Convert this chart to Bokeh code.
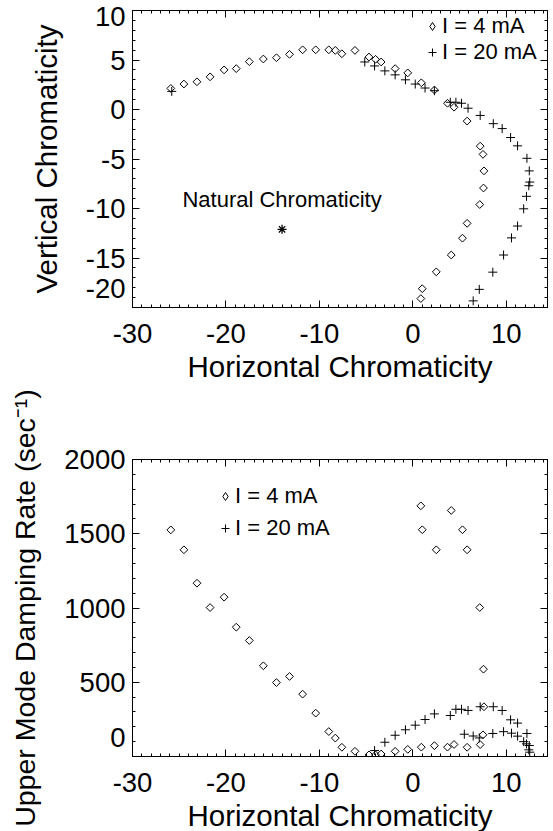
import math
from bokeh.plotting import figure
from bokeh.layouts import column
from bokeh.models import (Range1d, SingleIntervalTicker, LinearAxis, Legend,
                          LegendItem, Label, CustomJSTickFormatter)
from bokeh.embed import file_html
from bokeh.resources import INLINE

nan = float("nan")

# ---- data: I = 4 mA (diamonds) ----
hx_4 = [-25.9, -24.5, -23.1, -21.7, -20.2, -18.9, -17.5, -16.0, -14.6, -13.2,
        -11.8, -10.4, -9.0, -8.3, -7.6, -6.2, -4.7, -4.0, -3.4, -1.9,
        -0.55, 0.9, 2.3, 3.7, 4.4, 5.8, 7.2, 7.5, 7.6, 7.55,
        7.15, 5.8, 5.3, 4.1, 2.5, 1.0, 0.85]
vy_4 = [2.13, 2.57, 2.8, 3.3, 4.0, 4.13, 4.83, 5.1, 5.23, 5.57,
        6.03, 6.03, 6.03, 5.97, 5.63, 5.97, 5.3, 5.07, 4.8, 4.13,
        3.7, 2.7, 1.97, 0.63, 0.23, -1.17, -3.7, -4.53, -6.2, -7.93,
        -9.6, -11.5, -13.0, -14.7, -16.4, -18.1, -19.1]
rate_4 = [1526, 1392, 1167, 1003, 1073, 871, 781, 611, 498, 539,
          420, 292, 168, 124, 62, 35, 11, 11, 17, 35,
          48, 63, 73, 63, 81, 62, 80, 146, 335, 588,
          1003, 1392, 1527, 1657, 1392, 1527, 1688]

# ---- data: I = 20 mA (crosses) ----
hx_20 = [-25.8, -5.15, -4.1, -3.0, -1.9, -0.8, 0.25, 1.3, 2.3, 4.0,
         4.6, 5.2, 5.9, 7.2, 8.6, 9.55, 10.45, 11.2, 12.2, 12.45,
         12.5, 12.4, 12.15, 11.85, 11.2, 10.55, 9.7, 8.55, 7.1, 6.45, 5.5]
vy_20 = [1.83, 4.8, 4.4, 3.9, 3.5, 3.0, 2.57, 2.17, 1.9, 0.73,
         0.73, 0.63, 0.13, -0.6, -1.43, -1.93, -2.83, -3.67, -4.93, -6.2,
         -7.33, -7.7, -8.77, -10.03, -11.77, -12.97, -14.7, -16.43, -18.17, -19.33, -20.5]
rate_20 = [nan, nan, 40, 96, 143, 180, 211, 249, 287, 276,
           318, 318, 310, 335, 335, 310, 247, 225, 155, 74,
           29, 45, 85, 100, 137, 157, 167, 155, 125, 138, 150]

# ---- natural chromaticity ----
nat_x = [-14.0]
nat_y = [-12.1]

FONT = "Liberation Sans"
TICK_FS = "27.5px"
TITLE_FS = "29.5px"


def plain_fmt(lo=None):
    code = "var s = tick.toString();"
    if lo is not None:
        code += "if (tick == %s) return s + '\\n';" % lo
    code += "return s;"
    return CustomJSTickFormatter(code=code)


def style_axis(ax, show_labels=True):
    ax.axis_line_color = "black"
    ax.axis_line_width = 1
    ax.major_tick_line_color = "black"
    ax.minor_tick_line_color = "black"
    ax.major_tick_in = 7
    ax.major_tick_out = 0
    ax.minor_tick_in = 3
    ax.minor_tick_out = 0
    ax.major_label_text_font = FONT
    ax.axis_label_text_font = FONT
    ax.axis_label_text_font_size = TITLE_FS
    ax.axis_label_text_font_style = "normal"
    ax.axis_label_text_color = "black"
    if show_labels:
        ax.major_label_text_font_size = TICK_FS
        ax.major_label_text_color = "black"
    else:
        ax.major_label_text_font_size = "1px"
        ax.major_label_text_color = None
        ax.major_label_standoff = 0


def make_fig(y_start, y_end, y_int, y_minor, ylabel, top_border, bottom_border,
             yfmt, ylabel_fs):
    p = figure(frame_width=415, frame_height=297,
               x_range=Range1d(-30, 14.4), y_range=Range1d(y_start, y_end),
               output_backend="svg", toolbar_location=None,
               min_border_left=132, min_border_right=6,
               min_border_top=top_border, min_border_bottom=bottom_border,
               x_axis_label="Horizontal Chromaticity", y_axis_label=ylabel,
               background_fill_color="white", border_fill_color="white")
    p.xgrid.visible = False
    p.ygrid.visible = False
    p.outline_line_color = "black"
    p.xaxis.ticker = SingleIntervalTicker(interval=10, num_minor_ticks=10)
    p.yaxis.ticker = SingleIntervalTicker(interval=y_int, num_minor_ticks=y_minor)
    for ax in p.xaxis:
        style_axis(ax)
        ax.formatter = plain_fmt()
        ax.major_label_standoff = 16
        ax.axis_label_standoff = 4
    for ax in p.yaxis:
        style_axis(ax)
        ax.formatter = yfmt
        ax.major_label_standoff = 7
        ax.axis_label_standoff = 20
        ax.axis_label_text_font_size = ylabel_fs
    top_ax = LinearAxis(ticker=SingleIntervalTicker(interval=10, num_minor_ticks=10))
    right_ax = LinearAxis(ticker=SingleIntervalTicker(interval=y_int, num_minor_ticks=y_minor))
    style_axis(top_ax, show_labels=False)
    style_axis(right_ax, show_labels=False)
    p.add_layout(top_ax, "above")
    p.add_layout(right_ax, "right")
    return p


def make_legend(r_a, r_b, loc, spacing):
    return Legend(items=[LegendItem(label="I = 4 mA", renderers=[r_a]),
                         LegendItem(label="I = 20 mA", renderers=[r_b])],
                  location=loc, glyph_width=20, glyph_height=20, label_standoff=0,
                  padding=0, spacing=spacing, margin=0, border_line_color=None,
                  background_fill_alpha=0, label_text_font=FONT,
                  label_height=24,
                  label_text_font_size="22px", label_text_color="black")


# ---- top panel ----
p1 = make_fig(-20, 10, 5, 5, "Vertical Chromaticity", 10, 78,
              plain_fmt(lo=-20), TITLE_FS)
p1.scatter(hx_4, vy_4, marker="square", angle=math.pi / 4, size=5.5,
           fill_color=None, line_color="black", line_width=1)
r2 = p1.scatter(hx_20, vy_20, marker="cross", size=9,
                line_color="black", line_width=1)
r1 = p1.scatter([nan], [nan], marker="diamond", size=8, fill_color=None,
                line_color="black", line_width=1)
p1.scatter(nat_x, nat_y, marker="asterisk", size=9, line_color="black", line_width=1.3)
p1.add_layout(Label(x=nat_x[0], y=nat_y[0], y_offset=30, text="Natural Chromaticity",
                    text_align="center", text_baseline="middle",
                    text_font=FONT, text_font_size="22px", text_color="black"))
p1.add_layout(make_legend(r1, r2, (290, 242), 0))

# ---- bottom panel ----
p2 = make_fig(0, 2000, 500, 5, "Upper Mode Damping Rate (sec\u207b\u00b9)", 74, 75,
              plain_fmt(lo=0), "28.5px")
p2.scatter(hx_4, rate_4, marker="square", angle=math.pi / 4, size=5.5,
           fill_color=None, line_color="black", line_width=1)
s2 = p2.scatter(hx_20, rate_20, marker="cross", size=9,
                line_color="black", line_width=1)
s1 = p2.scatter([nan], [nan], marker="diamond", size=8, fill_color=None,
                line_color="black", line_width=1)
p2.add_layout(make_legend(s1, s2, (83, 215), 6))

layout = column(p1, p2, spacing=0)
open("out.html", "w").write(file_html(layout, INLINE))
